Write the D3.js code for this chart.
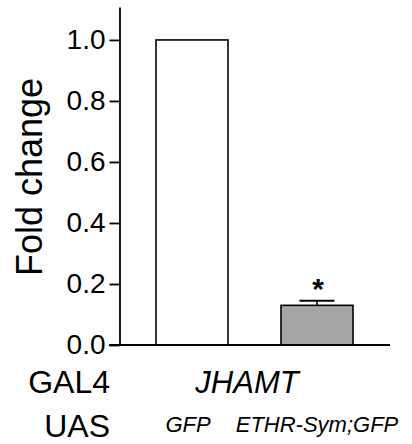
<!DOCTYPE html>
<html>
<head>
<meta charset="utf-8">
<script src="https://cdn.jsdelivr.net/npm/d3@7"></script>
<style>
  html, body { margin: 0; padding: 0; background: #fff; }
  svg { display: block; }
  text { font-family: "Liberation Sans", Arial, sans-serif; fill: #000; }
</style>
</head>
<body>
<svg id="chart" width="412" height="444"></svg>
<script>
// Relative JHAMT expression under two UAS constructs
const groups = ["GFP", "ETHR-Sym;GFP"];
const foldChange = [1.0, 0.13];
const sem = [0, 0.015];
const barFills = ["#ffffff", "#a6a6a9"];
const significance = ["", "*"];
const yTicks = [0, 0.2, 0.4, 0.6, 0.8, 1.0];

const svg = d3.select("#chart");

const y = d3.scaleLinear().domain([0, 1.108]).range([345, 7]);
const x = d3.scaleBand().domain(groups).range([131, 378])
  .paddingInner(0.424).paddingOuter(0.2);

// y axis
const yAxis = d3.axisLeft(y)
  .tickValues(yTicks)
  .tickFormat(d3.format(".1f"))
  .tickSize(10)
  .tickSizeOuter(0)
  .tickPadding(4);

const gy = svg.append("g").attr("transform", "translate(119.5,0)").call(yAxis);
gy.select(".domain").attr("stroke", "#000").attr("stroke-width", 1.8);
gy.selectAll(".tick line").attr("stroke", "#000").attr("stroke-width", 1.8);
gy.selectAll(".tick text")
  .style("font-family", "'Liberation Sans', Arial, sans-serif")
  .style("font-size", "28px")
  .attr("fill", "#000");

// bars
svg.append("g").selectAll("rect")
  .data(groups)
  .join("rect")
  .attr("x", d => x(d))
  .attr("y", (d, i) => y(foldChange[i]))
  .attr("width", x.bandwidth())
  .attr("height", (d, i) => y(0) - y(foldChange[i]))
  .attr("fill", (d, i) => barFills[i])
  .attr("stroke", "#000")
  .attr("stroke-width", 1.6);

// baseline
svg.append("line")
  .attr("x1", 109).attr("x2", 390)
  .attr("y1", y(0)).attr("y2", y(0))
  .attr("stroke", "#000").attr("stroke-width", 1.8);

// error bars (upper only)
const eb = svg.append("g");
groups.forEach((g, i) => {
  if (!sem[i]) return;
  const cx = x(g) + x.bandwidth() / 2;
  eb.append("line")
    .attr("x1", cx).attr("x2", cx)
    .attr("y1", y(foldChange[i])).attr("y2", y(foldChange[i] + sem[i]))
    .attr("stroke", "#000").attr("stroke-width", 1.6);
  eb.append("line")
    .attr("x1", cx - 17.5).attr("x2", cx + 17.5)
    .attr("y1", y(foldChange[i] + sem[i])).attr("y2", y(foldChange[i] + sem[i]))
    .attr("stroke", "#000").attr("stroke-width", 1.8);
});

// significance marks
svg.append("g").selectAll("text")
  .data(groups)
  .join("text")
  .attr("x", d => x(d) + x.bandwidth() / 2 + 1)
  .attr("y", (d, i) => y(foldChange[i] + sem[i]) - 2)
  .attr("text-anchor", "middle")
  .style("font-size", "30px")
  .style("font-weight", "bold")
  .text((d, i) => significance[i]);

// y axis title
svg.append("text")
  .attr("transform", "translate(42,177) rotate(-90)")
  .attr("text-anchor", "middle")
  .style("font-size", "36px")
  .text("Fold change");

// genotype rows
svg.append("text").attr("x", 110).attr("y", 393)
  .attr("text-anchor", "end").style("font-size", "32px").text("GAL4");
svg.append("text").attr("x", 247).attr("y", 393)
  .attr("text-anchor", "middle").style("font-size", "31px")
  .style("font-style", "italic").text("JHAMT");
svg.append("text").attr("x", 110).attr("y", 437)
  .attr("text-anchor", "end").style("font-size", "32px").text("UAS");

svg.append("g").selectAll("text")
  .data(groups)
  .join("text")
  .attr("x", (d, i) => x(d) + x.bandwidth() / 2 - (i === 0 ? 4 : 0))
  .attr("y", 432)
  .attr("text-anchor", "middle")
  .style("font-size", "22px")
  .style("font-style", "italic")
  .text(d => d);
</script>
</body>
</html>
